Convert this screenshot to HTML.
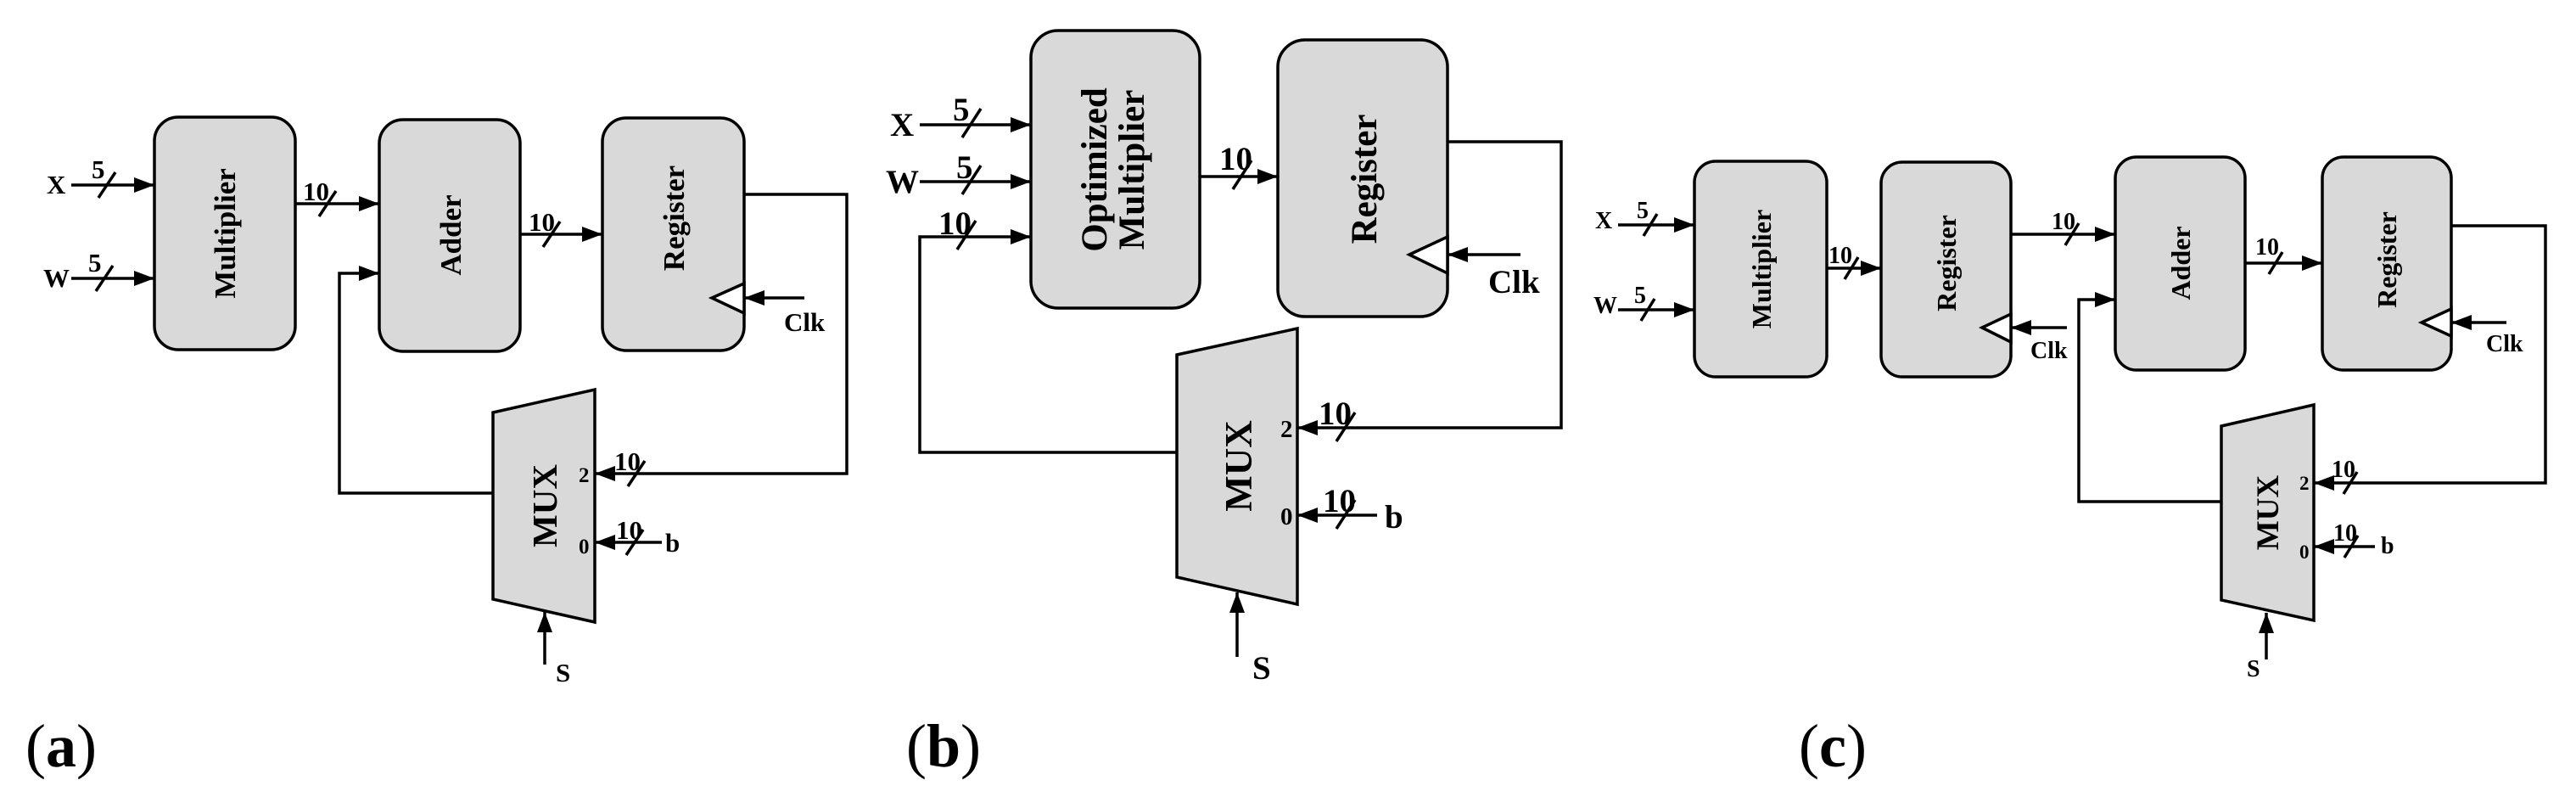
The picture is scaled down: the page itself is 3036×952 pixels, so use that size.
<!DOCTYPE html>
<html><head><meta charset="utf-8"><style>
html,body{margin:0;padding:0;background:#fff;}
svg{display:block;}
text{font-family:"Liberation Serif",serif;font-weight:bold;fill:#000;}
.lab{font-family:"Liberation Serif",serif;font-weight:normal;}
</style></head><body>
<svg width="3036" height="952" viewBox="0 0 3036 952" xmlns="http://www.w3.org/2000/svg">
<defs>
<marker id="ar" markerUnits="userSpaceOnUse" markerWidth="26" markerHeight="20" refX="24" refY="9" orient="auto">
<path d="M0,0 L24,9 L0,18 Z" fill="#000"/></marker>
</defs>
<g stroke="#000" stroke-width="3.5" fill="none">
<!-- ===== (a) ===== -->
<rect x="182" y="138" width="166" height="274" rx="28" fill="#d9d9d9"/>
<rect x="447" y="141" width="166" height="273" rx="28" fill="#d9d9d9"/>
<rect x="710" y="139" width="167" height="274" rx="28" fill="#d9d9d9"/>
<polygon points="839,351 877,334 877,369" fill="#fff"/>
<polygon points="581,486 701,459 701,733 581,706" fill="#d9d9d9"/>
<line x1="84" y1="218" x2="182" y2="218" marker-end="url(#ar)"/>
<line x1="84" y1="328" x2="182" y2="328" marker-end="url(#ar)"/>
<line x1="348" y1="240" x2="447" y2="240" marker-end="url(#ar)"/>
<line x1="613" y1="276" x2="710" y2="276" marker-end="url(#ar)"/>
<polyline points="877,229 998,229 998,558 701,558" marker-end="url(#ar)"/>
<line x1="948" y1="351" x2="877" y2="351" marker-end="url(#ar)"/>
<polyline points="581,581 400,581 400,322 447,322" marker-end="url(#ar)"/>
<line x1="780" y1="639" x2="701" y2="639" marker-end="url(#ar)"/>
<line x1="642" y1="783" x2="642" y2="721" marker-end="url(#ar)"/>
<line x1="116" y1="233" x2="136" y2="203"/>
<line x1="113" y1="343" x2="133" y2="313"/>
<line x1="376" y1="255" x2="396" y2="225"/>
<line x1="640" y1="291" x2="660" y2="261"/>
<line x1="740" y1="573" x2="760" y2="543"/>
<line x1="738" y1="654" x2="758" y2="624"/>
<!-- ===== (b) ===== -->
<rect x="1215" y="36" width="199" height="327" rx="32" fill="#d9d9d9"/>
<rect x="1506" y="47" width="200" height="326" rx="32" fill="#d9d9d9"/>
<polygon points="1661,300 1706,279 1706,322" fill="#fff"/>
<polygon points="1387,418 1529,387 1529,712 1387,680" fill="#d9d9d9"/>
<line x1="1084" y1="147" x2="1215" y2="147" marker-end="url(#ar)"/>
<line x1="1084" y1="214" x2="1215" y2="214" marker-end="url(#ar)"/>
<polyline points="1387,533 1084,533 1084,279 1215,279" marker-end="url(#ar)"/>
<line x1="1414" y1="208" x2="1506" y2="208" marker-end="url(#ar)"/>
<polyline points="1706,167 1840,167 1840,504 1529,504" marker-end="url(#ar)"/>
<line x1="1792" y1="300" x2="1706" y2="300" marker-end="url(#ar)"/>
<line x1="1623" y1="607" x2="1529" y2="607" marker-end="url(#ar)"/>
<line x1="1458" y1="774" x2="1458" y2="698" marker-end="url(#ar)"/>
<line x1="1134" y1="162" x2="1156" y2="128"/>
<line x1="1134" y1="229" x2="1156" y2="195"/>
<line x1="1128" y1="294" x2="1150" y2="260"/>
<line x1="1453" y1="223" x2="1475" y2="189"/>
<line x1="1575" y1="520" x2="1597" y2="486"/>
<line x1="1575" y1="623" x2="1597" y2="589"/>
<!-- ===== (c) ===== -->
<rect x="1997" y="190" width="156" height="254" rx="25" fill="#d9d9d9"/>
<rect x="2217" y="191" width="153" height="253" rx="25" fill="#d9d9d9"/>
<rect x="2493" y="185" width="153" height="251" rx="25" fill="#d9d9d9"/>
<rect x="2737" y="185" width="152" height="251" rx="25" fill="#d9d9d9"/>
<polygon points="2336,386 2370,370 2370,403" fill="#fff"/>
<polygon points="2854,380 2889,364 2889,396" fill="#fff"/>
<polygon points="2618,502 2727,477 2727,731 2618,707" fill="#d9d9d9"/>
<line x1="1907" y1="265" x2="1997" y2="265" marker-end="url(#ar)"/>
<line x1="1907" y1="365" x2="1997" y2="365" marker-end="url(#ar)"/>
<line x1="2153" y1="316" x2="2217" y2="316" marker-end="url(#ar)"/>
<line x1="2370" y1="276" x2="2493" y2="276" marker-end="url(#ar)"/>
<line x1="2646" y1="310" x2="2737" y2="310" marker-end="url(#ar)"/>
<polyline points="2889,266 3000,266 3000,569 2727,569" marker-end="url(#ar)"/>
<polyline points="2618,591 2450,591 2450,353 2493,353" marker-end="url(#ar)"/>
<line x1="2436" y1="386" x2="2370" y2="386" marker-end="url(#ar)"/>
<line x1="2954" y1="380" x2="2889" y2="380" marker-end="url(#ar)"/>
<line x1="2799" y1="644" x2="2727" y2="644" marker-end="url(#ar)"/>
<line x1="2671" y1="777" x2="2671" y2="722" marker-end="url(#ar)"/>
<line x1="1937" y1="278" x2="1953" y2="252"/>
<line x1="1934" y1="378" x2="1950" y2="352"/>
<line x1="2174" y1="329" x2="2190" y2="303"/>
<line x1="2434" y1="289" x2="2450" y2="263"/>
<line x1="2674" y1="323" x2="2690" y2="297"/>
<line x1="2762" y1="582" x2="2778" y2="556"/>
<line x1="2763" y1="657" x2="2779" y2="631"/>
</g>
<!-- text (a) -->
<g font-size="31">
<text x="55" y="228">X</text>
<text x="51" y="338">W</text>
<text x="108" y="210">5</text>
<text x="104" y="320">5</text>
<text x="357" y="236">10</text>
<text x="623" y="272">10</text>
<text x="724" y="554">10</text>
<text x="726" y="635">10</text>
<text x="784" y="650">b</text>
<text x="655" y="803">S</text>
<text x="924" y="390">Clk</text>
<text x="682" y="568" font-size="25">2</text>
<text x="682" y="652" font-size="25">0</text>
</g>
<text transform="translate(277,275) rotate(-90)" font-size="35" text-anchor="middle">Multiplier</text>
<text transform="translate(543,277) rotate(-90)" font-size="35" text-anchor="middle">Adder</text>
<text transform="translate(806,257) rotate(-90)" font-size="35" text-anchor="middle">Register</text>
<text transform="translate(656,596) rotate(-90)" font-size="41" text-anchor="middle">MUX</text>
<text class="lab" x="30" y="903" font-size="72">(<tspan font-weight="bold">a</tspan>)</text>
<!-- text (b) -->
<g font-size="39">
<text x="1049" y="160">X</text>
<text x="1044" y="227">W</text>
<text x="1123" y="142">5</text>
<text x="1127" y="210">5</text>
<text x="1106" y="276">10</text>
<text x="1437" y="200">10</text>
<text x="1554" y="500">10</text>
<text x="1559" y="603">10</text>
<text x="1632" y="622">b</text>
<text x="1476" y="800">S</text>
<text x="1754" y="345">Clk</text>
<text x="1509" y="515" font-size="29">2</text>
<text x="1509" y="618" font-size="29">0</text>
</g>
<text transform="translate(1314,200) rotate(-90)" font-size="43" text-anchor="middle"><tspan x="0" y="-10">Optimized</tspan><tspan x="0" y="34">Multiplier</tspan></text>
<text transform="translate(1622,211) rotate(-90)" font-size="43" text-anchor="middle">Register</text>
<text transform="translate(1475,549) rotate(-90)" font-size="45" text-anchor="middle">MUX</text>
<text class="lab" x="1068" y="903" font-size="72">(<tspan font-weight="bold">b</tspan>)</text>
<!-- text (c) -->
<g font-size="28">
<text x="1880" y="269">X</text>
<text x="1878" y="369">W</text>
<text x="1929" y="257">5</text>
<text x="1926" y="357">5</text>
<text x="2155" y="310">10</text>
<text x="2418" y="270">10</text>
<text x="2658" y="300">10</text>
<text x="2748" y="562">10</text>
<text x="2750" y="637">10</text>
<text x="2806" y="652">b</text>
<text x="2648" y="797">S</text>
<text x="2393" y="422">Clk</text>
<text x="2930" y="414">Clk</text>
<text x="2710" y="577" font-size="23">2</text>
<text x="2710" y="658" font-size="23">0</text>
</g>
<text transform="translate(2087,317) rotate(-90)" font-size="32" text-anchor="middle">Multiplier</text>
<text transform="translate(2305,310) rotate(-90)" font-size="32" text-anchor="middle">Register</text>
<text transform="translate(2581,310) rotate(-90)" font-size="32" text-anchor="middle">Adder</text>
<text transform="translate(2824,306) rotate(-90)" font-size="32" text-anchor="middle">Register</text>
<text transform="translate(2685,604) rotate(-90)" font-size="37" text-anchor="middle">MUX</text>
<text class="lab" x="2120" y="903" font-size="72">(<tspan font-weight="bold">c</tspan>)</text>
</svg>
</body></html>
